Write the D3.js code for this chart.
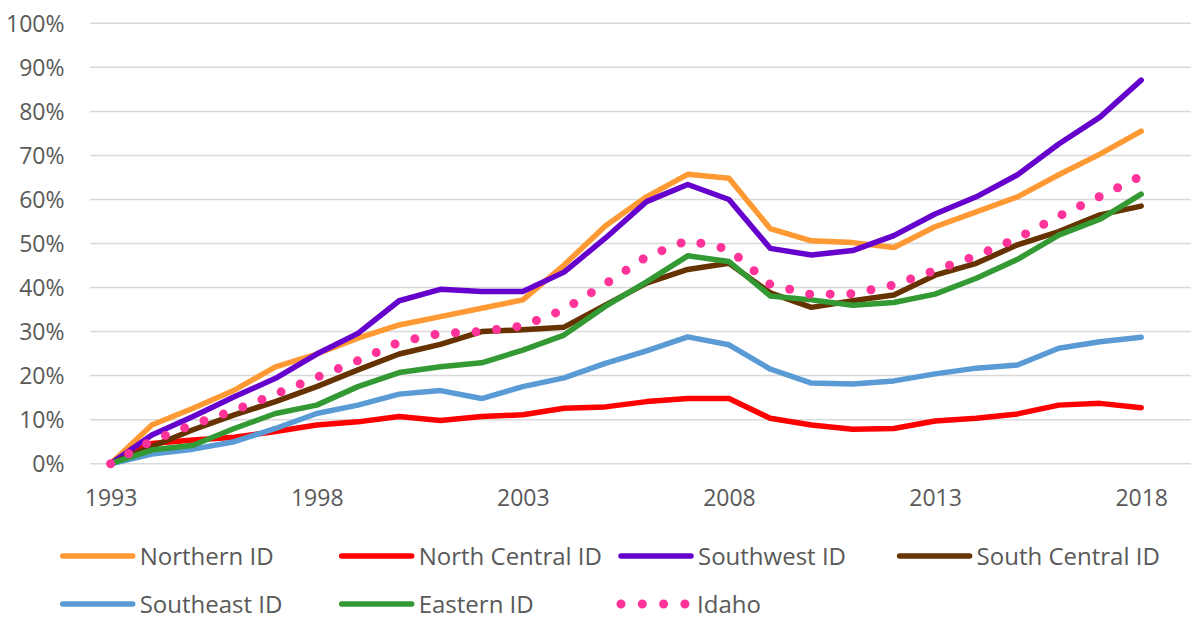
<!DOCTYPE html>
<html>
<head>
<meta charset="utf-8">
<script src="https://cdn.jsdelivr.net/npm/d3@7"></script>
<style>
  html, body { margin: 0; padding: 0; background: #fff; }
  svg { display: block; }
</style>
</head>
<body>
<svg id="chart" width="1191" height="619"></svg>
<script>
const years = d3.range(1993, 2019);
const xTickLabels = [1993, 1998, 2003, 2008, 2013, 2018];
const yTicks = [0, 0.1, 0.2, 0.3, 0.4, 0.5, 0.6, 0.7, 0.8, 0.9, 1.0];

const northern = [0, 8.8, 12.6, 16.7, 22.0, 24.9, 28.5, 31.5, 33.4, 35.3, 37.2, 45.1, 54.0, 60.6, 65.7, 64.8, 53.4, 50.6, 50.2, 49.1, 53.8, 57.2, 60.6, 65.6, 70.3, 75.5];
const northCentral = [0, 4.6, 5.4, 6.0, 7.3, 8.8, 9.5, 10.7, 9.8, 10.7, 11.1, 12.6, 12.9, 14.1, 14.8, 14.8, 10.3, 8.8, 7.8, 8.0, 9.7, 10.3, 11.3, 13.3, 13.7, 12.7];
const southwest = [0, 6.5, 10.7, 15.2, 19.4, 24.9, 29.6, 37.0, 39.6, 39.1, 39.1, 43.5, 51.2, 59.5, 63.4, 60.0, 48.9, 47.4, 48.4, 51.8, 56.7, 60.6, 65.6, 72.6, 78.7, 87.1];
const southCentral = [0, 3.9, 7.7, 11.1, 14.1, 17.5, 21.3, 24.9, 27.1, 30.0, 30.4, 31.0, 36.0, 41.0, 44.1, 45.5, 38.8, 35.5, 37.0, 38.3, 42.8, 45.5, 49.7, 52.7, 56.5, 58.5];
const southeast = [0, 2.2, 3.3, 5.0, 8.0, 11.4, 13.3, 15.8, 16.6, 14.8, 17.5, 19.5, 22.8, 25.6, 28.8, 27.0, 21.5, 18.3, 18.1, 18.8, 20.4, 21.7, 22.4, 26.2, 27.7, 28.7];
const eastern = [0, 3.1, 4.2, 8.0, 11.4, 13.3, 17.5, 20.7, 22.0, 22.9, 25.8, 29.2, 35.7, 41.3, 47.2, 45.9, 38.1, 37.2, 36.0, 36.6, 38.5, 42.1, 46.4, 51.9, 55.5, 61.2];
const idaho = [0, 5.2, 8.9, 12.1, 15.8, 19.6, 23.4, 27.6, 29.6, 30.0, 31.3, 35.0, 40.8, 47.0, 50.7, 48.7, 40.7, 38.4, 38.6, 40.6, 43.9, 47.2, 51.2, 56.2, 60.7, 65.3];

const seriesNames = ["Northern ID", "North Central ID", "Southwest ID", "South Central ID", "Southeast ID", "Eastern ID", "Idaho"];
const seriesValues = [northern, northCentral, southwest, southCentral, southeast, eastern, idaho];
const seriesColors = ["#FF9933", "#FF0000", "#6600CC", "#663300", "#5B9BD5", "#339933", "#FF3399"];

const svg = d3.select("#chart");
const font = "'Open Sans', 'Noto Sans', sans-serif";
const textColor = "#595959";

const gridLeft = 90, gridRight = 1191;
const x = d3.scaleLinear().domain([1993, 2018]).range([110.6, 1141.2]);
const y = d3.scaleLinear().domain([0, 1]).range([463.7, 23.3]);

// gridlines
svg.append("g").selectAll("line").data(yTicks).join("line")
  .attr("x1", gridLeft).attr("x2", gridRight)
  .attr("y1", d => y(d)).attr("y2", d => y(d))
  .attr("stroke", "#D9D9D9").attr("stroke-width", 1.5);

// y axis labels
const yAxis = d3.axisLeft(y).tickValues(yTicks).tickFormat(d3.format(".0%")).tickSize(0).tickPadding(0);
const gy = svg.append("g").attr("transform", "translate(64.5,0)").call(yAxis);
gy.select(".domain").remove();
gy.selectAll("text").attr("font-family", font).attr("font-size", 23).attr("fill", textColor).attr("dy", "0.36em");

// x axis labels
const xAxis = d3.axisBottom(x).tickValues(xTickLabels).tickFormat(d3.format("d")).tickSize(0).tickPadding(0);
const gx = svg.append("g").attr("transform", "translate(0,489)").call(xAxis);
gx.select(".domain").remove();
gx.selectAll("text").attr("font-family", font).attr("font-size", 23).attr("fill", textColor).attr("dy", "0.75em");

// lines
const line = d3.line().x((d, i) => x(years[i])).y(d => y(d / 100));
seriesValues.forEach((vals, k) => {
  const isIdaho = seriesNames[k] === "Idaho";
  svg.append("path")
    .datum(vals)
    .attr("d", line)
    .attr("fill", "none")
    .attr("stroke", seriesColors[k])
    .attr("stroke-width", isIdaho ? 9 : 5.5)
    .attr("stroke-linecap", "round")
    .attr("stroke-linejoin", "round")
    .attr("stroke-dasharray", isIdaho ? "0 20.6" : null);
});

// legend
const legendItems = seriesNames.map((name, i) => ({ name, color: seriesColors[i], row: Math.floor(i / 4), col: i % 4 }));
const colX = [62.7, 341.7, 621, 899.6];
const rowY = [556, 604];
const lg = svg.append("g").selectAll("g").data(legendItems).join("g")
  .attr("transform", d => `translate(${colX[d.col]},${rowY[d.row]})`);
lg.append("line")
  .attr("x1", 0).attr("x2", d => d.name === "Idaho" ? 64 : 70)
  .attr("y1", 0).attr("y2", 0)
  .attr("stroke", d => d.color)
  .attr("stroke-width", d => d.name === "Idaho" ? 9 : 5.5)
  .attr("stroke-linecap", "round")
  .attr("stroke-dasharray", d => d.name === "Idaho" ? "0 21.3" : null);
lg.append("text")
  .attr("x", d => d.name === "Idaho" ? 76 : 77)
  .attr("y", 0)
  .attr("dy", "0.36em")
  .attr("font-family", font).attr("font-size", 24).attr("fill", textColor)
  .text(d => d.name);
</script>
</body>
</html>
